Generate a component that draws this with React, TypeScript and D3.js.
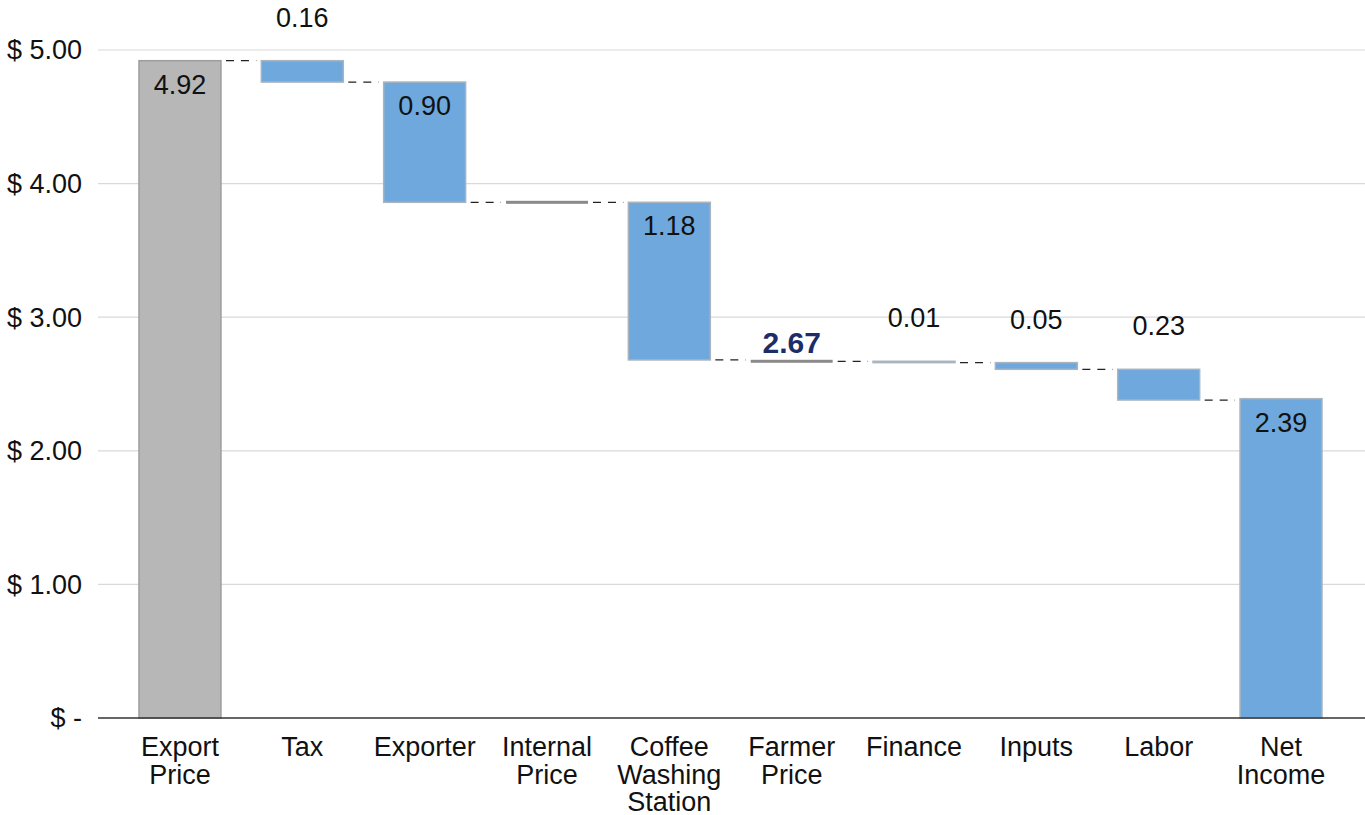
import React from "react";
import * as d3 from "d3";

const categories = ["Export Price", "Tax", "Exporter", "Internal Price", "Coffee Washing Station", "Farmer Price", "Finance", "Inputs", "Labor", "Net Income"];
const kinds = ["total", "down", "down", "subtotal", "down", "subtotal", "down", "down", "down", "total"];
const values = [4.92, 0.16, 0.9, 3.86, 1.18, 2.67, 0.01, 0.05, 0.23, 2.39];
const labelModes = ["inside", "above", "inside", "none", "inside", "highlight", "above", "above", "above", "inside"];
const yTicks = [0, 1, 2, 3, 4, 5];

const W = 1365;
const H = 815;
const FONT = "'Liberation Sans', Arial, sans-serif";

export default function App() {
  const x = d3.scaleBand<string>().domain(categories).range([118.8, 1342.2]).paddingInner(0.33).paddingOuter(0.165);
  const y = d3.scaleLinear().domain([0, 5]).range([718, 50]);
  const bw = x.bandwidth();

  let running = 0;
  const bars = categories.map((c, i) => {
    const k = kinds[i];
    const v = values[i];
    let start = 0, end = 0;
    if (k === "total") { start = 0; end = v; running = v; }
    else if (k === "down") { start = running; end = running - v; running = end; }
    else { start = v; end = v; running = v; }
    return { c, k, v, start, end, mode: labelModes[i] };
  });

  const fmt = d3.format(".2f");

  return (
    <svg width={W} height={H} style={{ position: "absolute", left: 0, top: 0, background: "#fff" }} fontFamily={FONT}>
      {yTicks.map((t) => (
        <g key={t}>
          {t > 0 && <line x1={98} x2={1365} y1={y(t)} y2={y(t)} stroke="#d9d9d9" strokeWidth={1.2} />}
          <text x={82} y={y(t)} dy="0.35em" textAnchor="end" fontSize={27} fill="#111">
            {t === 0 ? "$ -" : "$ " + fmt(t)}
          </text>
        </g>
      ))}
      {bars.map((b, i) => {
        if (i === bars.length - 1) return null;
        const n = bars[i + 1];
        const x1 = (x(b.c) as number) + bw + 5;
        const x2 = (x(n.c) as number) - 5;
        const yy = y(b.end);
        return <line key={"c" + i} x1={x1} x2={x2} y1={yy} y2={yy} stroke="#222" strokeWidth={1.2} strokeDasharray="8,7" />;
      })}
      {bars.map((b) => {
        const x0 = x(b.c) as number;
        if (b.k === "subtotal") {
          return <rect key={b.c} x={x0} y={y(b.v) - 1.5} width={bw} height={3} fill="#8a8a8a" />;
        }
        const top = y(Math.max(b.start, b.end));
        const bot = y(Math.min(b.start, b.end));
        const first = b.c === categories[0];
        return (
          <rect key={b.c} x={x0} y={top} width={bw} height={Math.max(bot - top, 1)}
            fill={first ? "#b7b7b7" : "#6fa8dc"}
            stroke={first ? "#9e9e9e" : "#a9b4bf"} strokeWidth={1.5} />
        );
      })}
      {bars.map((b) => {
        const cx = (x(b.c) as number) + bw / 2;
        const top = y(Math.max(b.start, b.end));
        if (b.mode === "inside") {
          return <text key={"l" + b.c} x={cx} y={top + 33} textAnchor="middle" fontSize={27} fill="#111">{fmt(b.v)}</text>;
        }
        if (b.mode === "above") {
          return <text key={"l" + b.c} x={cx} y={top - 34} textAnchor="middle" fontSize={27} fill="#111">{fmt(b.v)}</text>;
        }
        if (b.mode === "highlight") {
          return <text key={"l" + b.c} x={cx} y={top - 8} textAnchor="middle" fontSize={30} fontWeight="bold" fill="#1c2d6b">{fmt(b.v)}</text>;
        }
        return null;
      })}
      <line x1={98} x2={1365} y1={y(0)} y2={y(0)} stroke="#333" strokeWidth={1.5} />
      {categories.map((c) => {
        const cx = (x(c) as number) + bw / 2;
        const words = c.split(" ");
        return (
          <text key={"x" + c} x={cx} y={756} textAnchor="middle" fontSize={27} fill="#111">
            {words.map((w, j) => (
              <tspan key={j} x={cx} dy={j === 0 ? 0 : 27.5}>{w}</tspan>
            ))}
          </text>
        );
      })}
    </svg>
  );
}
